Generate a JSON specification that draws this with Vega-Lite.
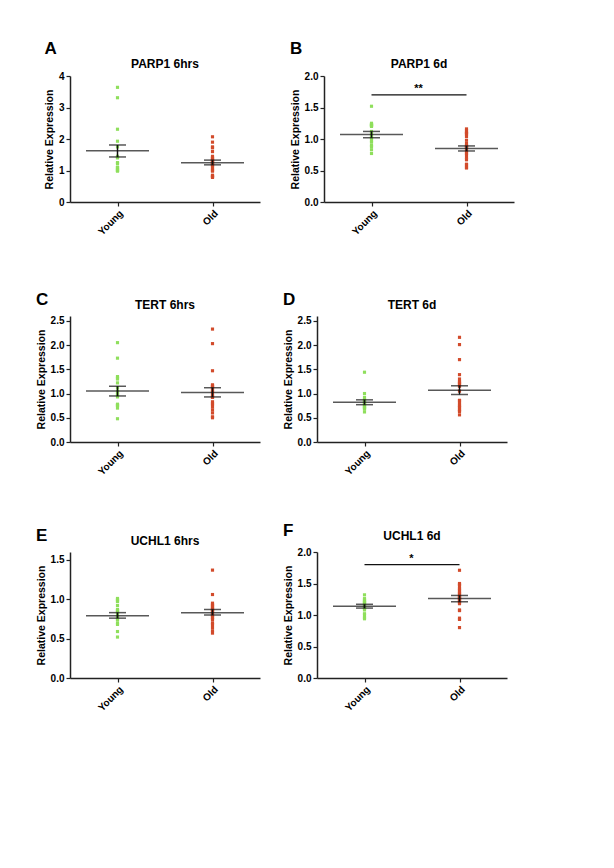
{
  "$schema": "https://vega.github.io/schema/vega-lite/v6.json",
  "background": "white",
  "padding": {"left": 36, "top": 40, "right": 5, "bottom": 5},
  "config": {
    "font": "Liberation Sans",
    "view": {"stroke": null},
    "title": {"fontSize": 12, "fontWeight": "bold", "color": "#000"},
    "axis": {"labelFontWeight": "bold", "labelFontSize": 10, "labelColor": "#000", "titleFontSize": 10.5, "titleFontWeight": "bold", "titleColor": "#000", "domainColor": "#222", "domainWidth": 1.5, "tickColor": "#222", "tickWidth": 1.2, "tickSize": 4, "grid": false, "labelPadding": 2, "labelOverlap": false},
    "axisX": {"labelAngle": -45, "title": null},
    "tick": {"color": "#111"},
    "rule": {"color": "#111", "strokeWidth": 1.5}
  },
  "datasets": {
    "pts": [
      {"panel":"A","group":"Young","value":3.64},{"panel":"A","group":"Young","value":3.31},{"panel":"A","group":"Young","value":2.31},{"panel":"A","group":"Young","value":1.93},{"panel":"A","group":"Young","value":1.75},{"panel":"A","group":"Young","value":1.45},{"panel":"A","group":"Young","value":1.42},{"panel":"A","group":"Young","value":1.40},{"panel":"A","group":"Young","value":1.25},{"panel":"A","group":"Young","value":1.22},{"panel":"A","group":"Young","value":1.10},{"panel":"A","group":"Young","value":1.10},{"panel":"A","group":"Young","value":1.08},{"panel":"A","group":"Young","value":1.02},{"panel":"A","group":"Young","value":1.00},{"panel":"A","group":"Young","value":1.00},{"panel":"A","group":"Young","value":0.98},
      {"panel":"A","group":"Old","value":2.07},{"panel":"A","group":"Old","value":1.90},{"panel":"A","group":"Old","value":1.75},{"panel":"A","group":"Old","value":1.72},{"panel":"A","group":"Old","value":1.60},{"panel":"A","group":"Old","value":1.45},{"panel":"A","group":"Old","value":1.40},{"panel":"A","group":"Old","value":1.38},{"panel":"A","group":"Old","value":1.35},{"panel":"A","group":"Old","value":1.32},{"panel":"A","group":"Old","value":1.30},{"panel":"A","group":"Old","value":1.28},{"panel":"A","group":"Old","value":1.25},{"panel":"A","group":"Old","value":1.22},{"panel":"A","group":"Old","value":1.20},{"panel":"A","group":"Old","value":1.18},{"panel":"A","group":"Old","value":1.15},{"panel":"A","group":"Old","value":1.10},{"panel":"A","group":"Old","value":1.05},{"panel":"A","group":"Old","value":1.00},{"panel":"A","group":"Old","value":0.98},{"panel":"A","group":"Old","value":0.85},{"panel":"A","group":"Old","value":0.82},{"panel":"A","group":"Old","value":0.80},{"panel":"A","group":"Old","value":0.78},
      {"panel":"B","group":"Young","value":1.52},{"panel":"B","group":"Young","value":1.25},{"panel":"B","group":"Young","value":1.23},{"panel":"B","group":"Young","value":1.22},{"panel":"B","group":"Young","value":1.22},{"panel":"B","group":"Young","value":1.21},{"panel":"B","group":"Young","value":1.20},{"panel":"B","group":"Young","value":1.12},{"panel":"B","group":"Young","value":1.08},{"panel":"B","group":"Young","value":1.05},{"panel":"B","group":"Young","value":1.02},{"panel":"B","group":"Young","value":1.01},{"panel":"B","group":"Young","value":0.97},{"panel":"B","group":"Young","value":0.95},{"panel":"B","group":"Young","value":0.90},{"panel":"B","group":"Young","value":0.88},{"panel":"B","group":"Young","value":0.83},{"panel":"B","group":"Young","value":0.77},
      {"panel":"B","group":"Old","value":1.16},{"panel":"B","group":"Old","value":1.13},{"panel":"B","group":"Old","value":1.10},{"panel":"B","group":"Old","value":1.09},{"panel":"B","group":"Old","value":1.08},{"panel":"B","group":"Old","value":1.04},{"panel":"B","group":"Old","value":0.98},{"panel":"B","group":"Old","value":0.93},{"panel":"B","group":"Old","value":0.90},{"panel":"B","group":"Old","value":0.88},{"panel":"B","group":"Old","value":0.87},{"panel":"B","group":"Old","value":0.86},{"panel":"B","group":"Old","value":0.83},{"panel":"B","group":"Old","value":0.80},{"panel":"B","group":"Old","value":0.77},{"panel":"B","group":"Old","value":0.75},{"panel":"B","group":"Old","value":0.71},{"panel":"B","group":"Old","value":0.67},{"panel":"B","group":"Old","value":0.60},{"panel":"B","group":"Old","value":0.59},{"panel":"B","group":"Old","value":0.55},{"panel":"B","group":"Old","value":0.54},
      {"panel":"C","group":"Young","value":2.05},{"panel":"C","group":"Young","value":1.73},{"panel":"C","group":"Young","value":1.35},{"panel":"C","group":"Young","value":1.32},{"panel":"C","group":"Young","value":1.30},{"panel":"C","group":"Young","value":1.22},{"panel":"C","group":"Young","value":1.12},{"panel":"C","group":"Young","value":1.05},{"panel":"C","group":"Young","value":1.00},{"panel":"C","group":"Young","value":0.98},{"panel":"C","group":"Young","value":0.93},{"panel":"C","group":"Young","value":0.78},{"panel":"C","group":"Young","value":0.76},{"panel":"C","group":"Young","value":0.75},{"panel":"C","group":"Young","value":0.70},{"panel":"C","group":"Young","value":0.48},
      {"panel":"C","group":"Old","value":2.33},{"panel":"C","group":"Old","value":2.03},{"panel":"C","group":"Old","value":1.47},{"panel":"C","group":"Old","value":1.18},{"panel":"C","group":"Old","value":1.16},{"panel":"C","group":"Old","value":1.15},{"panel":"C","group":"Old","value":1.12},{"panel":"C","group":"Old","value":1.10},{"panel":"C","group":"Old","value":1.06},{"panel":"C","group":"Old","value":1.04},{"panel":"C","group":"Old","value":0.99},{"panel":"C","group":"Old","value":0.95},{"panel":"C","group":"Old","value":0.93},{"panel":"C","group":"Old","value":0.92},{"panel":"C","group":"Old","value":0.83},{"panel":"C","group":"Old","value":0.79},{"panel":"C","group":"Old","value":0.77},{"panel":"C","group":"Old","value":0.72},{"panel":"C","group":"Old","value":0.66},{"panel":"C","group":"Old","value":0.60},{"panel":"C","group":"Old","value":0.52},{"panel":"C","group":"Old","value":0.50},
      {"panel":"D","group":"Young","value":1.44},{"panel":"D","group":"Young","value":1.00},{"panel":"D","group":"Young","value":0.92},{"panel":"D","group":"Young","value":0.88},{"panel":"D","group":"Young","value":0.85},{"panel":"D","group":"Young","value":0.83},{"panel":"D","group":"Young","value":0.82},{"panel":"D","group":"Young","value":0.80},{"panel":"D","group":"Young","value":0.78},{"panel":"D","group":"Young","value":0.76},{"panel":"D","group":"Young","value":0.73},{"panel":"D","group":"Young","value":0.72},{"panel":"D","group":"Young","value":0.71},{"panel":"D","group":"Young","value":0.69},{"panel":"D","group":"Young","value":0.68},{"panel":"D","group":"Young","value":0.62},
      {"panel":"D","group":"Old","value":2.16},{"panel":"D","group":"Old","value":2.01},{"panel":"D","group":"Old","value":1.70},{"panel":"D","group":"Old","value":1.39},{"panel":"D","group":"Old","value":1.30},{"panel":"D","group":"Old","value":1.25},{"panel":"D","group":"Old","value":1.23},{"panel":"D","group":"Old","value":1.20},{"panel":"D","group":"Old","value":1.18},{"panel":"D","group":"Old","value":1.15},{"panel":"D","group":"Old","value":1.05},{"panel":"D","group":"Old","value":0.86},{"panel":"D","group":"Old","value":0.85},{"panel":"D","group":"Old","value":0.80},{"panel":"D","group":"Old","value":0.76},{"panel":"D","group":"Old","value":0.73},{"panel":"D","group":"Old","value":0.71},{"panel":"D","group":"Old","value":0.67},{"panel":"D","group":"Old","value":0.65},{"panel":"D","group":"Old","value":0.63},{"panel":"D","group":"Old","value":0.56},
      {"panel":"E","group":"Young","value":1.01},{"panel":"E","group":"Young","value":1.00},{"panel":"E","group":"Young","value":0.98},{"panel":"E","group":"Young","value":0.97},{"panel":"E","group":"Young","value":0.92},{"panel":"E","group":"Young","value":0.87},{"panel":"E","group":"Young","value":0.86},{"panel":"E","group":"Young","value":0.85},{"panel":"E","group":"Young","value":0.83},{"panel":"E","group":"Young","value":0.80},{"panel":"E","group":"Young","value":0.77},{"panel":"E","group":"Young","value":0.75},{"panel":"E","group":"Young","value":0.74},{"panel":"E","group":"Young","value":0.70},{"panel":"E","group":"Young","value":0.68},{"panel":"E","group":"Young","value":0.59},{"panel":"E","group":"Young","value":0.52},
      {"panel":"E","group":"Old","value":1.37},{"panel":"E","group":"Old","value":1.06},{"panel":"E","group":"Old","value":0.95},{"panel":"E","group":"Old","value":0.93},{"panel":"E","group":"Old","value":0.92},{"panel":"E","group":"Old","value":0.91},{"panel":"E","group":"Old","value":0.89},{"panel":"E","group":"Old","value":0.88},{"panel":"E","group":"Old","value":0.87},{"panel":"E","group":"Old","value":0.86},{"panel":"E","group":"Old","value":0.85},{"panel":"E","group":"Old","value":0.84},{"panel":"E","group":"Old","value":0.82},{"panel":"E","group":"Old","value":0.80},{"panel":"E","group":"Old","value":0.79},{"panel":"E","group":"Old","value":0.77},{"panel":"E","group":"Old","value":0.76},{"panel":"E","group":"Old","value":0.74},{"panel":"E","group":"Old","value":0.70},{"panel":"E","group":"Old","value":0.68},{"panel":"E","group":"Old","value":0.64},{"panel":"E","group":"Old","value":0.60},{"panel":"E","group":"Old","value":0.57},
      {"panel":"F","group":"Young","value":1.32},{"panel":"F","group":"Young","value":1.26},{"panel":"F","group":"Young","value":1.24},{"panel":"F","group":"Young","value":1.22},{"panel":"F","group":"Young","value":1.21},{"panel":"F","group":"Young","value":1.20},{"panel":"F","group":"Young","value":1.19},{"panel":"F","group":"Young","value":1.17},{"panel":"F","group":"Young","value":1.15},{"panel":"F","group":"Young","value":1.13},{"panel":"F","group":"Young","value":1.11},{"panel":"F","group":"Young","value":1.10},{"panel":"F","group":"Young","value":1.08},{"panel":"F","group":"Young","value":1.02},{"panel":"F","group":"Young","value":1.00},{"panel":"F","group":"Young","value":0.96},{"panel":"F","group":"Young","value":0.94},
      {"panel":"F","group":"Old","value":1.71},{"panel":"F","group":"Old","value":1.50},{"panel":"F","group":"Old","value":1.48},{"panel":"F","group":"Old","value":1.46},{"panel":"F","group":"Old","value":1.42},{"panel":"F","group":"Old","value":1.40},{"panel":"F","group":"Old","value":1.38},{"panel":"F","group":"Old","value":1.36},{"panel":"F","group":"Old","value":1.34},{"panel":"F","group":"Old","value":1.32},{"panel":"F","group":"Old","value":1.30},{"panel":"F","group":"Old","value":1.29},{"panel":"F","group":"Old","value":1.28},{"panel":"F","group":"Old","value":1.26},{"panel":"F","group":"Old","value":1.25},{"panel":"F","group":"Old","value":1.24},{"panel":"F","group":"Old","value":1.22},{"panel":"F","group":"Old","value":1.20},{"panel":"F","group":"Old","value":1.18},{"panel":"F","group":"Old","value":1.08},{"panel":"F","group":"Old","value":1.07},{"panel":"F","group":"Old","value":0.95},{"panel":"F","group":"Old","value":0.93},{"panel":"F","group":"Old","value":0.80}
    ],
    "stats": [
      {"panel":"A","group":"Young","mean":1.63,"lo":1.43,"hi":1.81},{"panel":"A","group":"Old","mean":1.25,"lo":1.18,"hi":1.33},
      {"panel":"B","group":"Young","mean":1.07,"lo":1.02,"hi":1.12},{"panel":"B","group":"Old","mean":0.85,"lo":0.81,"hi":0.89},
      {"panel":"C","group":"Young","mean":1.05,"lo":0.95,"hi":1.15},{"panel":"C","group":"Old","mean":1.02,"lo":0.93,"hi":1.12},
      {"panel":"D","group":"Young","mean":0.82,"lo":0.77,"hi":0.87},{"panel":"D","group":"Old","mean":1.07,"lo":0.98,"hi":1.16},
      {"panel":"E","group":"Young","mean":0.79,"lo":0.76,"hi":0.83},{"panel":"E","group":"Old","mean":0.83,"lo":0.80,"hi":0.87},
      {"panel":"F","group":"Young","mean":1.14,"lo":1.11,"hi":1.17},{"panel":"F","group":"Old","mean":1.26,"lo":1.21,"hi":1.31}
    ],
    "sig": [
      {"panel":"B","from":"Young","to":"Old","y":1.70,"label":"**"},
      {"panel":"F","from":"Young","to":"Old","y":1.80,"label":"*"}
    ]
  },
  "vconcat": [
    {"hconcat": [
      {"title": {"text":"A","anchor":"start","frame":"bounds","fontSize":17,"offset":0},
       "vconcat": [{"width":190,"height":126,"title":{"text":"PARP1 6hrs","offset":0},
        "layer": [
          {"data":{"name":"pts"},"transform":[{"filter":"datum.panel === 'A'"}],"mark":{"type":"square","size":10,"opacity":1},
           "encoding":{"x":{"field":"group","type":"nominal","sort":["Young","Old"],"scale":{"type":"point","padding":0.5,"domain":["Young","Old"]}},
            "y":{"field":"value","type":"quantitative","scale":{"domain":[0,4]},"axis":{"title":"Relative Expression","values":[0,1,2,3,4],"format":"d","labelOverlap":false,"tickCount":5}},
            "color":{"field":"group","type":"nominal","scale":{"domain":["Young","Old"],"range":["#8fdf5c","#d24b2b"]},"legend":null}}},
          {"data":{"name":"stats"},"transform":[{"filter":"datum.panel === 'A'"}],"mark":{"type":"tick","size":63,"thickness":1.5},
           "encoding":{"x":{"field":"group","type":"nominal","sort":["Young","Old"]},"y":{"field":"mean","type":"quantitative"}}},
          {"data":{"name":"stats"},"transform":[{"filter":"datum.panel === 'A'"}],"mark":{"type":"rule"},
           "encoding":{"x":{"field":"group","type":"nominal","sort":["Young","Old"]},"y":{"field":"lo","type":"quantitative"},"y2":{"field":"hi"}}},
          {"data":{"name":"stats"},"transform":[{"filter":"datum.panel === 'A'"}],"mark":{"type":"tick","size":17,"thickness":1.5},
           "encoding":{"x":{"field":"group","type":"nominal","sort":["Young","Old"]},"y":{"field":"lo","type":"quantitative"}}},
          {"data":{"name":"stats"},"transform":[{"filter":"datum.panel === 'A'"}],"mark":{"type":"tick","size":17,"thickness":1.5},
           "encoding":{"x":{"field":"group","type":"nominal","sort":["Young","Old"]},"y":{"field":"hi","type":"quantitative"}}}
        ]}]},
      {"title": {"text":"B","anchor":"start","frame":"bounds","fontSize":17,"offset":0},
       "vconcat": [{"width":190,"height":126,"title":{"text":"PARP1 6d","offset":0},
        "layer": [
          {"data":{"name":"pts"},"transform":[{"filter":"datum.panel === 'B'"}],"mark":{"type":"square","size":10,"opacity":1},
           "encoding":{"x":{"field":"group","type":"nominal","sort":["Young","Old"],"scale":{"type":"point","padding":0.5,"domain":["Young","Old"]}},
            "y":{"field":"value","type":"quantitative","scale":{"domain":[0,2]},"axis":{"title":"Relative Expression","values":[0,0.5,1,1.5,2],"format":".1f","labelOverlap":false,"tickCount":5}},
            "color":{"field":"group","type":"nominal","scale":{"domain":["Young","Old"],"range":["#8fdf5c","#d24b2b"]},"legend":null}}},
          {"data":{"name":"stats"},"transform":[{"filter":"datum.panel === 'B'"}],"mark":{"type":"tick","size":63,"thickness":1.5},
           "encoding":{"x":{"field":"group","type":"nominal","sort":["Young","Old"]},"y":{"field":"mean","type":"quantitative"}}},
          {"data":{"name":"stats"},"transform":[{"filter":"datum.panel === 'B'"}],"mark":{"type":"rule"},
           "encoding":{"x":{"field":"group","type":"nominal","sort":["Young","Old"]},"y":{"field":"lo","type":"quantitative"},"y2":{"field":"hi"}}},
          {"data":{"name":"stats"},"transform":[{"filter":"datum.panel === 'B'"}],"mark":{"type":"tick","size":17,"thickness":1.5},
           "encoding":{"x":{"field":"group","type":"nominal","sort":["Young","Old"]},"y":{"field":"lo","type":"quantitative"}}},
          {"data":{"name":"stats"},"transform":[{"filter":"datum.panel === 'B'"}],"mark":{"type":"tick","size":17,"thickness":1.5},
           "encoding":{"x":{"field":"group","type":"nominal","sort":["Young","Old"]},"y":{"field":"hi","type":"quantitative"}}},
          {"data":{"name":"sig"},"transform":[{"filter":"datum.panel === 'B'"}],"mark":{"type":"rule","strokeWidth":1.2},
           "encoding":{"x":{"field":"from","type":"nominal","sort":["Young","Old"]},"x2":{"field":"to"},"y":{"field":"y","type":"quantitative"}}},
          {"data":{"name":"sig"},"transform":[{"filter":"datum.panel === 'B'"}],"mark":{"type":"text","dx":47,"dy":-6,"fontSize":11,"fontWeight":"bold"},
           "encoding":{"x":{"field":"from","type":"nominal","sort":["Young","Old"]},"y":{"field":"y","type":"quantitative"},"text":{"field":"label"}}}
        ]}]}
    ], "spacing": 30},
    {"vconcat": [
    {"hconcat": [
      {"title": {"text":"C","anchor":"start","frame":"bounds","fontSize":17,"offset":-10},
       "vconcat": [{"width":190,"height":126,"title":{"text":"TERT 6hrs","offset":4},
        "layer": [
          {"data":{"name":"pts"},"transform":[{"filter":"datum.panel === 'C'"}],"mark":{"type":"square","size":10,"opacity":1},
           "encoding":{"x":{"field":"group","type":"nominal","sort":["Young","Old"],"scale":{"type":"point","padding":0.5,"domain":["Young","Old"]}},
            "y":{"field":"value","type":"quantitative","scale":{"domain":[0,2.5]},"axis":{"title":"Relative Expression","values":[0,0.5,1,1.5,2,2.5],"format":".1f","labelOverlap":false,"tickCount":6}},
            "color":{"field":"group","type":"nominal","scale":{"domain":["Young","Old"],"range":["#8fdf5c","#d24b2b"]},"legend":null}}},
          {"data":{"name":"stats"},"transform":[{"filter":"datum.panel === 'C'"}],"mark":{"type":"tick","size":63,"thickness":1.5},
           "encoding":{"x":{"field":"group","type":"nominal","sort":["Young","Old"]},"y":{"field":"mean","type":"quantitative"}}},
          {"data":{"name":"stats"},"transform":[{"filter":"datum.panel === 'C'"}],"mark":{"type":"rule"},
           "encoding":{"x":{"field":"group","type":"nominal","sort":["Young","Old"]},"y":{"field":"lo","type":"quantitative"},"y2":{"field":"hi"}}},
          {"data":{"name":"stats"},"transform":[{"filter":"datum.panel === 'C'"}],"mark":{"type":"tick","size":17,"thickness":1.5},
           "encoding":{"x":{"field":"group","type":"nominal","sort":["Young","Old"]},"y":{"field":"lo","type":"quantitative"}}},
          {"data":{"name":"stats"},"transform":[{"filter":"datum.panel === 'C'"}],"mark":{"type":"tick","size":17,"thickness":1.5},
           "encoding":{"x":{"field":"group","type":"nominal","sort":["Young","Old"]},"y":{"field":"hi","type":"quantitative"}}}
        ]}]},
      {"title": {"text":"D","anchor":"start","frame":"bounds","fontSize":17,"offset":-10},
       "vconcat": [{"width":190,"height":126,"title":{"text":"TERT 6d","offset":4},
        "layer": [
          {"data":{"name":"pts"},"transform":[{"filter":"datum.panel === 'D'"}],"mark":{"type":"square","size":10,"opacity":1},
           "encoding":{"x":{"field":"group","type":"nominal","sort":["Young","Old"],"scale":{"type":"point","padding":0.5,"domain":["Young","Old"]}},
            "y":{"field":"value","type":"quantitative","scale":{"domain":[0,2.5]},"axis":{"title":"Relative Expression","values":[0,0.5,1,1.5,2,2.5],"format":".1f","labelOverlap":false,"tickCount":6}},
            "color":{"field":"group","type":"nominal","scale":{"domain":["Young","Old"],"range":["#8fdf5c","#d24b2b"]},"legend":null}}},
          {"data":{"name":"stats"},"transform":[{"filter":"datum.panel === 'D'"}],"mark":{"type":"tick","size":63,"thickness":1.5},
           "encoding":{"x":{"field":"group","type":"nominal","sort":["Young","Old"]},"y":{"field":"mean","type":"quantitative"}}},
          {"data":{"name":"stats"},"transform":[{"filter":"datum.panel === 'D'"}],"mark":{"type":"rule"},
           "encoding":{"x":{"field":"group","type":"nominal","sort":["Young","Old"]},"y":{"field":"lo","type":"quantitative"},"y2":{"field":"hi"}}},
          {"data":{"name":"stats"},"transform":[{"filter":"datum.panel === 'D'"}],"mark":{"type":"tick","size":17,"thickness":1.5},
           "encoding":{"x":{"field":"group","type":"nominal","sort":["Young","Old"]},"y":{"field":"lo","type":"quantitative"}}},
          {"data":{"name":"stats"},"transform":[{"filter":"datum.panel === 'D'"}],"mark":{"type":"tick","size":17,"thickness":1.5},
           "encoding":{"x":{"field":"group","type":"nominal","sort":["Young","Old"]},"y":{"field":"hi","type":"quantitative"}}}
        ]}]}
    ], "spacing": 23},
    {"hconcat": [
      {"title": {"text":"E","anchor":"start","frame":"bounds","fontSize":17,"offset":-10},
       "vconcat": [{"width":190,"height":126,"title":{"text":"UCHL1 6hrs","offset":4},
        "layer": [
          {"data":{"name":"pts"},"transform":[{"filter":"datum.panel === 'E'"}],"mark":{"type":"square","size":10,"opacity":1},
           "encoding":{"x":{"field":"group","type":"nominal","sort":["Young","Old"],"scale":{"type":"point","padding":0.5,"domain":["Young","Old"]}},
            "y":{"field":"value","type":"quantitative","scale":{"domain":[0,1.5]},"axis":{"title":"Relative Expression","values":[0,0.5,1,1.5],"format":".1f","labelOverlap":false,"tickCount":4}},
            "color":{"field":"group","type":"nominal","scale":{"domain":["Young","Old"],"range":["#8fdf5c","#d24b2b"]},"legend":null}}},
          {"data":{"name":"stats"},"transform":[{"filter":"datum.panel === 'E'"}],"mark":{"type":"tick","size":63,"thickness":1.5},
           "encoding":{"x":{"field":"group","type":"nominal","sort":["Young","Old"]},"y":{"field":"mean","type":"quantitative"}}},
          {"data":{"name":"stats"},"transform":[{"filter":"datum.panel === 'E'"}],"mark":{"type":"rule"},
           "encoding":{"x":{"field":"group","type":"nominal","sort":["Young","Old"]},"y":{"field":"lo","type":"quantitative"},"y2":{"field":"hi"}}},
          {"data":{"name":"stats"},"transform":[{"filter":"datum.panel === 'E'"}],"mark":{"type":"tick","size":17,"thickness":1.5},
           "encoding":{"x":{"field":"group","type":"nominal","sort":["Young","Old"]},"y":{"field":"lo","type":"quantitative"}}},
          {"data":{"name":"stats"},"transform":[{"filter":"datum.panel === 'E'"}],"mark":{"type":"tick","size":17,"thickness":1.5},
           "encoding":{"x":{"field":"group","type":"nominal","sort":["Young","Old"]},"y":{"field":"hi","type":"quantitative"}}}
        ]}]},
      {"title": {"text":"F","anchor":"start","frame":"bounds","fontSize":17,"offset":-10},
       "vconcat": [{"width":190,"height":126,"title":{"text":"UCHL1 6d","offset":4},
        "layer": [
          {"data":{"name":"pts"},"transform":[{"filter":"datum.panel === 'F'"}],"mark":{"type":"square","size":10,"opacity":1},
           "encoding":{"x":{"field":"group","type":"nominal","sort":["Young","Old"],"scale":{"type":"point","padding":0.5,"domain":["Young","Old"]}},
            "y":{"field":"value","type":"quantitative","scale":{"domain":[0,2]},"axis":{"title":"Relative Expression","values":[0,0.5,1,1.5,2],"format":".1f","labelOverlap":false,"tickCount":5}},
            "color":{"field":"group","type":"nominal","scale":{"domain":["Young","Old"],"range":["#8fdf5c","#d24b2b"]},"legend":null}}},
          {"data":{"name":"stats"},"transform":[{"filter":"datum.panel === 'F'"}],"mark":{"type":"tick","size":63,"thickness":1.5},
           "encoding":{"x":{"field":"group","type":"nominal","sort":["Young","Old"]},"y":{"field":"mean","type":"quantitative"}}},
          {"data":{"name":"stats"},"transform":[{"filter":"datum.panel === 'F'"}],"mark":{"type":"rule"},
           "encoding":{"x":{"field":"group","type":"nominal","sort":["Young","Old"]},"y":{"field":"lo","type":"quantitative"},"y2":{"field":"hi"}}},
          {"data":{"name":"stats"},"transform":[{"filter":"datum.panel === 'F'"}],"mark":{"type":"tick","size":17,"thickness":1.5},
           "encoding":{"x":{"field":"group","type":"nominal","sort":["Young","Old"]},"y":{"field":"lo","type":"quantitative"}}},
          {"data":{"name":"stats"},"transform":[{"filter":"datum.panel === 'F'"}],"mark":{"type":"tick","size":17,"thickness":1.5},
           "encoding":{"x":{"field":"group","type":"nominal","sort":["Young","Old"]},"y":{"field":"hi","type":"quantitative"}}},
          {"data":{"name":"sig"},"transform":[{"filter":"datum.panel === 'F'"}],"mark":{"type":"rule","strokeWidth":1.2},
           "encoding":{"x":{"field":"from","type":"nominal","sort":["Young","Old"]},"x2":{"field":"to"},"y":{"field":"y","type":"quantitative"}}},
          {"data":{"name":"sig"},"transform":[{"filter":"datum.panel === 'F'"}],"mark":{"type":"text","dx":47,"dy":-6,"fontSize":11,"fontWeight":"bold"},
           "encoding":{"x":{"field":"from","type":"nominal","sort":["Young","Old"]},"y":{"field":"y","type":"quantitative"},"text":{"field":"label"}}}
        ]}]}
    ], "spacing": 23}
    ], "spacing": 45}
  ],
  "spacing": 53
}
